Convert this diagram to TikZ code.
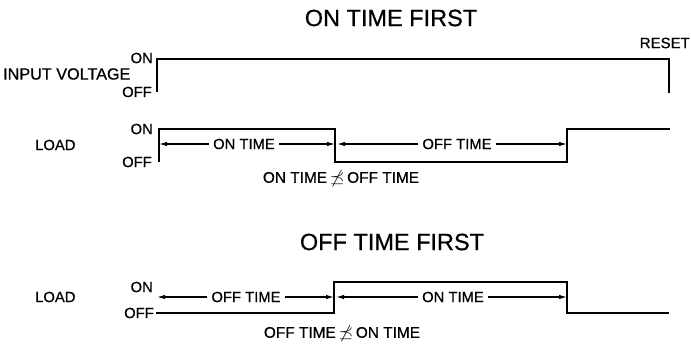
\documentclass[tikz,border=0pt]{standalone}
\usepackage{amssymb}
\usepackage{fontspec}
\setmainfont{Liberation Sans}
\newfontfamily\lblfont[FakeBold=0.6]{Liberation Sans}
\usetikzlibrary{arrows.meta}
\begin{document}
\begin{tikzpicture}[x=1pt,y=-1pt,
  wave/.style={line width=1.7pt,line join=miter},
  dim/.style={line width=1.2pt,-{Latex[length=8pt,width=4.5pt]}},
  title/.style={inner sep=0pt,font=\lblfont\fontsize{23.5}{26}\selectfont},
  lbl/.style={inner sep=0pt,font=\lblfont\fontsize{14.8}{17}\selectfont},
  gap/.style={lbl,fill=white,inner xsep=4pt}]
\useasboundingbox (0,0) rectangle (691,343);
% ---------- ON TIME FIRST ----------
\node[title] (t1) at (391,18) {ON TIME FIRST};
\node[lbl,anchor=west,font=\lblfont\fontsize{16.2}{18}\selectfont] (iv) at (3,74) {INPUT VOLTAGE};
\node[lbl,anchor=east] (ivon) at (153,58) {ON};
\node[lbl,anchor=east] (ivoff) at (152,92) {OFF};
\node[lbl,anchor=east,font=\lblfont\fontsize{15}{18}\selectfont] (reset) at (690,43) {RESET};
\coordinate (a0) at (157,92);
\coordinate (a1) at (157,59);
\coordinate (a2) at (669,59);
\coordinate (a3) at (669,93);
\draw[wave] (a0) -- (a1) -- (a2) -- (a3);
\node[lbl,anchor=west] (load1) at (35,145) {LOAD};
\node[lbl,anchor=east] (l1on) at (153,129) {ON};
\node[lbl,anchor=east] (l1off) at (152,162) {OFF};
\coordinate (b0) at (159,162);
\coordinate (b1) at (159,129);
\coordinate (b2) at (335,129);
\coordinate (b3) at (335,162);
\coordinate (b4) at (567,162);
\coordinate (b5) at (567,129);
\coordinate (b6) at (670,129);
\draw[wave] (b0) -- (b1) -- (b2) -- (b3) -- (b4) -- (b5) -- (b6);
\node[gap] (on1) at (244,144) {ON TIME};
\node[gap] (off1) at (457,144) {OFF TIME};
\coordinate (c0) at (159,144);
\coordinate (c1) at (335,144);
\coordinate (c2) at (337,144);
\coordinate (c3) at (567,144);
\draw[dim] (on1.west) -- (c0);
\draw[dim] (on1.east) -- (c1);
\draw[dim] (off1.west) -- (c2);
\draw[dim] (off1.east) -- (c3);
\node[lbl,font=\lblfont\fontsize{15.4}{17}\selectfont] (neq1) at (341,179) {ON TIME\,\scalebox{1.25}[1]{$\npreceq$}\,OFF TIME};
% ---------- OFF TIME FIRST ----------
\node[title] (t2) at (392,242) {OFF TIME FIRST};
\node[lbl,anchor=west] (load2) at (35,297) {LOAD};
\node[lbl,anchor=east] (l2on) at (153,287) {ON};
\node[lbl,anchor=east] (l2off) at (154,313) {OFF};
\coordinate (d0) at (156,313);
\coordinate (d1) at (334,313);
\coordinate (d2) at (334,282);
\coordinate (d3) at (567,282);
\coordinate (d4) at (567,313);
\coordinate (d5) at (669,313);
\draw[wave] (d0) -- (d1) -- (d2) -- (d3) -- (d4) -- (d5);
\node[gap] (off2) at (246,297) {OFF TIME};
\node[gap] (on2) at (453,297) {ON TIME};
\coordinate (e0) at (157,297);
\coordinate (e1) at (334,297);
\coordinate (e2) at (336,297);
\coordinate (e3) at (567,297);
\draw[dim] (off2.west) -- (e0);
\draw[dim] (off2.east) -- (e1);
\draw[dim] (on2.west) -- (e2);
\draw[dim] (on2.east) -- (e3);
\node[lbl,font=\lblfont\fontsize{15.4}{17}\selectfont] (neq2) at (342,334) {OFF TIME\,\scalebox{1.25}[1]{$\npreceq$}\,ON TIME};
\end{tikzpicture}
\end{document}
